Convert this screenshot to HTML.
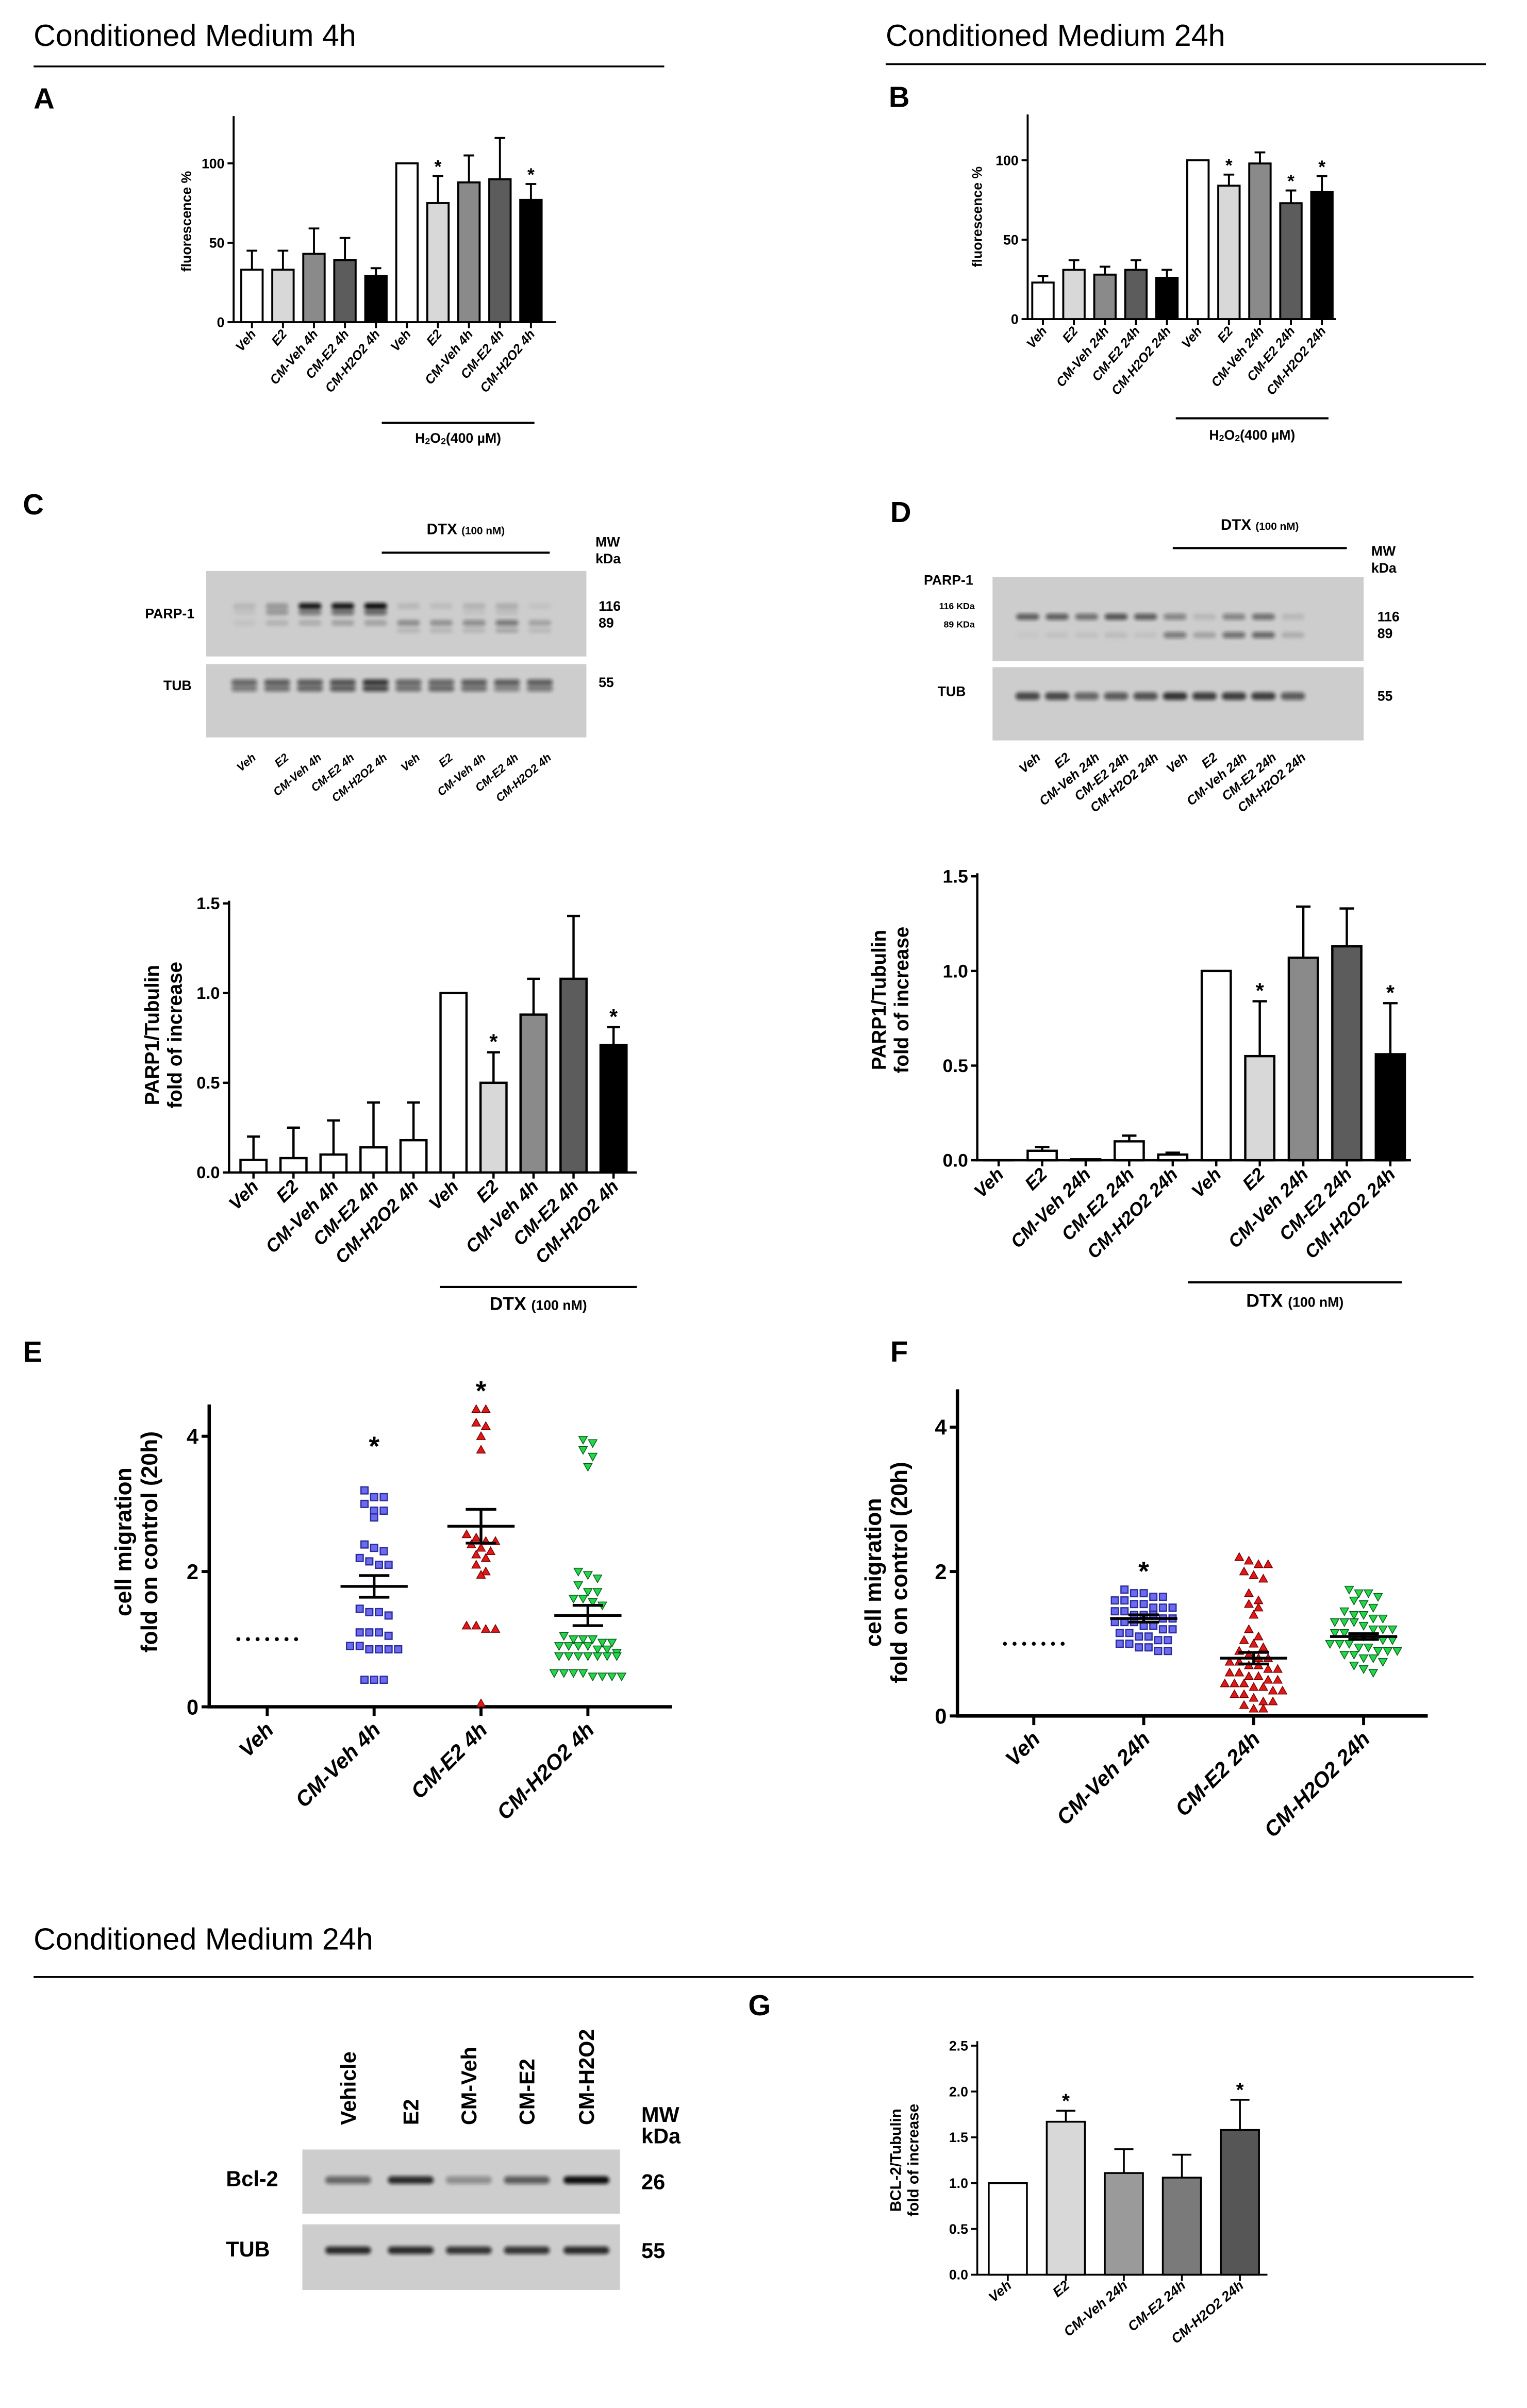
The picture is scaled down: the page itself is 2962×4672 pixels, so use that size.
<!DOCTYPE html>
<html><head><meta charset="utf-8">
<style>
html,body{margin:0;padding:0;background:#fff;}
svg{display:block;}
text{font-family:"Liberation Sans",sans-serif;}
</style></head>
<body>
<svg id="fig" width="2962" height="4672" viewBox="0 0 1000 1577.3" xmlns="http://www.w3.org/2000/svg">
<defs>
<filter id="blur" x="-50%" y="-50%" width="200%" height="200%"><feGaussianBlur stdDeviation="1.2"/></filter>
</defs>
<rect x="0" y="0" width="1000" height="1577.3" fill="#fff"/>
</svg>
<script>
// ---------- Panel A data ----------
const catsA = ["Veh","E2","CM-Veh 4h","CM-E2 4h","CM-H2O2 4h","Veh","E2","CM-Veh 4h","CM-E2 4h","CM-H2O2 4h"];
const valsA = [33,33,43,39,29,100,75,88,90,77];
const errsA = [12,12,16,14,5,0,17,17,26,10];
const starsA = [6,9];
const ticksA = [0,50,100];
// ---------- Panel B data ----------
const catsB = ["Veh","E2","CM-Veh 24h","CM-E2 24h","CM-H2O2  24h","Veh","E2","CM-Veh 24h","CM-E2 24h","CM-H2O2  24h"];
const valsB = [23,31,28,31,26,100,84,98,73,80];
const errsB = [4,6,5,6,5,0,7,7,8,10];
const starsB = [6,8,9];
const ticksB = [0,50,100];
// ---------- Panel C data ----------
const catsC = catsA;
const valsC = [0.07,0.08,0.10,0.14,0.18,1.0,0.50,0.88,1.08,0.71];
const errsC = [0.13,0.17,0.19,0.25,0.21,0,0.17,0.20,0.35,0.10];
const starsC = [6,9];
const ticksC = [0,0.5,1.0,1.5];
const tickLabelsC = ["0.0","0.5","1.0","1.5"];
// ---------- Panel D data ----------
const catsD = catsB;
const valsD = [0.0,0.05,0.005,0.10,0.03,1.0,0.55,1.07,1.13,0.56];
const errsD = [0,0.02,0,0.03,0.01,0,0.29,0.27,0.20,0.27];
const starsD = [6,9];
const ticksD = ticksC;
const tickLabelsD = tickLabelsC;
// ---------- Panel E data ----------
const catsE = ["Veh","CM-Veh 4h","CM-E2 4h","CM-H2O2 4h"];
const vehE = [1,1,1,1,1,1,1];
const cmVehE = [3.2,3.1,3.1,3.0,2.9,2.9,2.8,2.4,2.35,2.3,2.2,2.15,2.1,2.1,1.45,1.4,1.4,1.35,1.1,1.1,1.1,1.05,0.9,0.9,0.85,0.85,0.85,0.85,0.4,0.4,0.4];
const cmE2E = [4.4,4.4,4.2,4.15,4.0,3.8,2.55,2.5,2.45,2.45,2.4,2.35,2.3,2.25,2.2,2.1,2.0,1.95,1.2,1.2,1.15,1.15,0.05];
const cmH2O2E = [3.95,3.9,3.8,3.7,3.55,2.0,1.95,1.9,1.8,1.7,1.7,1.6,1.6,1.55,1.5,1.05,1.0,1.0,1.0,0.95,0.95,0.9,0.9,0.9,0.9,0.85,0.85,0.8,0.75,0.75,0.75,0.75,0.75,0.75,0.75,0.5,0.5,0.45,0.45,0.45,0.45,0.5,0.5];
const meansE = [1.0,1.78,2.67,1.35];
const semsE = [0,0.16,0.25,0.15];
const starsE = [1,2];
const ticksE = [0,2,4];
// ---------- Panel F data ----------
const catsF = ["Veh","CM-Veh 24h","CM-E2 24h","CM-H2O2 24h"];
const vehF = [1,1,1,1,1,1,1];
const cmVehF = [1.75,1.7,1.7,1.65,1.65,1.6,1.6,1.55,1.55,1.5,1.5,1.5,1.45,1.45,1.4,1.4,1.4,1.35,1.35,1.3,1.3,1.3,1.25,1.25,1.2,1.2,1.15,1.15,1.1,1.1,1.05,1.05,1.0,1.0,0.95,0.95,0.9,0.9];
const cmE2F = [2.2,2.15,2.1,2.1,2.0,1.95,1.9,1.7,1.6,1.55,1.5,1.4,1.2,1.1,1.05,1.0,0.95,0.9,0.85,0.8,0.8,0.75,0.7,0.7,0.65,0.6,0.6,0.55,0.5,0.5,0.45,0.45,0.4,0.4,0.35,0.35,0.3,0.3,0.25,0.2,0.2,0.15,0.1,0.1,0.45,0.55,0.65,0.75];
const cmH2O2F = [1.75,1.7,1.7,1.65,1.6,1.55,1.5,1.45,1.4,1.35,1.35,1.3,1.3,1.25,1.2,1.2,1.15,1.15,1.1,1.1,1.05,1.05,1.0,1.0,0.95,0.95,0.9,0.9,0.85,0.85,0.8,0.75,0.7,0.65,0.6,1.0,1.1,1.2,1.3,0.9,0.8,1.4];
const meansF = [1.0,1.35,0.8,1.1];
const semsF = [0,0.05,0.08,0.04];
const starsF = [1];
const ticksF = [0,2,4];
// ---------- Panel G data ----------
const catsG = ["Veh","E2","CM-Veh 24h","CM-E2 24h","CM-H2O2  24h"];
const valsG = [1.0,1.67,1.11,1.06,1.58];
const errsG = [0,0.12,0.26,0.25,0.33];
const starsG = [1,4];
const ticksG = [0,0.5,1.0,1.5,2.0,2.5];
const tickLabelsG = ["0.0","0.5","1.0","1.5","2.0","2.5"];

const NS = "http://www.w3.org/2000/svg";
const svg = document.getElementById('fig');
function el(tag, a, p){const e=document.createElementNS(NS,tag);for(const k in a)e.setAttribute(k,a[k]);(p||svg).appendChild(e);return e;}
function tx(x,y,s,size,extra,p){const t=el('text',Object.assign({x:x,y:y,'font-size':size,fill:'#000'},extra||{}),p);t.textContent=s;return t;}

// ---------- Bar chart ----------
function barChart(name, c){
  const g = el('g',{});
  
  
  const Y = v => c.y0 - v*c.ppu;
  const ax = el('path',{d:`M${c.ax} ${c.yTop} V${c.y0} H${c.axEnd}`,stroke:'#000','stroke-width':c.axW,fill:'none'},g);
  
  
  c.ticks.forEach((t,i)=>{
    el('line',{x1:c.ax-4,x2:c.ax,y1:Y(t),y2:Y(t),stroke:'#000','stroke-width':c.axW},g);
    const tl = tx(c.ax-6,Y(t)+c.tickSize*0.35,c.tickLabels?c.tickLabels[i]:String(t),c.tickSize,{'text-anchor':'end','font-weight':'bold'},g);
    
    
  });
  c.vals.forEach((v,i)=>{
    const cx = c.firstC + i*c.step;
    const r = el('rect',{x:cx-c.bw/2,y:Y(v),width:c.bw,height:Math.max(0.01,c.y0-Y(v)),fill:c.colors[i],stroke:'#000','stroke-width':c.barStroke},g);
    
    
    const top = Y(v+c.errs[i]);
    if(c.errs[i]>0){
      const eb = el('path',{d:`M${cx} ${Y(v)} V${top} M${cx-c.bw*0.25} ${top} H${cx+c.bw*0.25}`,stroke:'#000','stroke-width':c.barStroke,fill:'none'},g);
      
      
    }
    if(c.stars.includes(i)){
      const st = tx(cx,top-2,'*',c.starSize,{'text-anchor':'middle','font-weight':'bold'},g);
      
      
    }
    el('line',{x1:cx,x2:cx,y1:c.y0,y2:c.y0+4,stroke:'#000','stroke-width':c.axW},g);
    const lb = tx(cx+c.lblDx,c.y0+c.lblDy,c.cats[i],c.lblSize,{'text-anchor':'end','font-weight':'bold','font-style':'italic',transform:`rotate(${c.rot} ${cx+c.lblDx} ${c.y0+c.lblDy})`},g);
    
    
  });
  const yl = el('text',{transform:`translate(${c.ylx} ${c.yly}) rotate(-90)`,'font-size':c.ylSize,'font-weight':'bold','text-anchor':'middle'},g);
  c.ylLines.forEach((s,i)=>{const ts=el('tspan',{x:0,dy:i?c.ylSize*1.15:0},yl);ts.textContent=s;});
  
  
}

const grey5 = ['#fff','#d8d8d8','#8a8a8a','#5c5c5c','#000'];
barChart('chart-a',{ax:153,axEnd:364,yTop:76,y0:211,ppu:1.04,ticks:ticksA,vals:valsA,errs:errsA,stars:starsA,cats:catsA,
  colors:grey5.concat(grey5),firstC:165,step:20.3,bw:14,barStroke:1.3,axW:1.3,tickSize:9,starSize:12,lblSize:8.5,lblDx:3,lblDy:8,rot:-50,
  ylx:125,yly:145,ylSize:9,ylLines:['fluorescence %']});
barChart('chart-b',{ax:673,axEnd:875,yTop:75,y0:209,ppu:1.04,ticks:ticksB,vals:valsB,errs:errsB,stars:starsB,cats:catsB,
  colors:grey5.concat(grey5),firstC:683,step:20.3,bw:14,barStroke:1.3,axW:1.3,tickSize:9,starSize:12,lblSize:8.5,lblDx:3,lblDy:8,rot:-50,
  ylx:643,yly:142,ylSize:9,ylLines:['fluorescence %']});
barChart('chart-c',{ax:150,axEnd:417,yTop:590,y0:768,ppu:117.5,ticks:ticksC,tickLabels:tickLabelsC,vals:valsC,errs:errsC,stars:starsC,cats:catsC,
  colors:['#fff','#fff','#fff','#fff','#fff','#fff','#d8d8d8','#8a8a8a','#5c5c5c','#000'],firstC:166,step:26.2,bw:17,barStroke:1.5,axW:1.5,tickSize:11,starSize:14,lblSize:12,lblDx:4,lblDy:10,rot:-45,
  ylx:104,yly:678,ylSize:13,ylLines:['PARP1/Tubulin','fold of increase']});
barChart('chart-d',{ax:640,axEnd:924,yTop:572,y0:760,ppu:124,ticks:ticksD,tickLabels:tickLabelsD,vals:valsD,errs:errsD,stars:starsD,cats:catsD,
  colors:['#fff','#fff','#fff','#fff','#fff','#fff','#d8d8d8','#8a8a8a','#5c5c5c','#000'],firstC:654,step:28.5,bw:19,barStroke:1.5,axW:1.5,tickSize:12,starSize:14,lblSize:12,lblDx:4,lblDy:10,rot:-45,
  ylx:580,yly:655,ylSize:13,ylLines:['PARP1/Tubulin','fold of increase']});
barChart('chart-g',{ax:640,axEnd:830,yTop:1337,y0:1490,ppu:60,ticks:ticksG,tickLabels:tickLabelsG,vals:valsG,errs:errsG,stars:starsG,cats:catsG,
  colors:['#fff','#d8d8d8','#9a9a9a','#7a7a7a','#565656'],firstC:660,step:38,bw:25,barStroke:1.2,axW:1.2,tickSize:9,starSize:13,lblSize:9,lblDx:3,lblDy:8,rot:-40,
  ylx:590,yly:1415,ylSize:10,ylLines:['BCL-2/Tubulin','fold of increase']});

// ---------- Scatter charts ----------
function marker(shape,x,y,g){
  let m;
  if(shape==='sq') m=el('rect',{x:x-2.3,y:y-2.3,width:4.6,height:4.6,fill:'#6b6bf0',stroke:'#2a2a9a','stroke-width':0.8},g);
  else if(shape==='up') m=el('path',{d:`M${x} ${y-2.8} L${x+2.8} ${y+2.2} L${x-2.8} ${y+2.2}Z`,fill:'#e01818',stroke:'#700','stroke-width':0.5},g);
  else if(shape==='dn') m=el('path',{d:`M${x} ${y+2.8} L${x+2.8} ${y-2.2} L${x-2.8} ${y-2.2}Z`,fill:'#22d84a',stroke:'#0a5a1a','stroke-width':0.5},g);
  else m=el('circle',{cx:x,cy:y,r:1.3,fill:'#000'},g);
  return m;
}
function scatter(name,c){
  const g = el('g',{});
  
  
  const Y = v => c.y0 - v*c.ppu;
  const ax = el('path',{d:`M${c.ax} ${c.yTop} V${c.y0} H${c.axEnd}`,stroke:'#000','stroke-width':2.2,fill:'none'},g);
  
  
  c.ticks.forEach(t=>{
    el('line',{x1:c.ax-5,x2:c.ax,y1:Y(t),y2:Y(t),stroke:'#000','stroke-width':2},g);
    const tl = tx(c.ax-7,Y(t)+5,String(t),14,{'text-anchor':'end','font-weight':'bold'},g);
    
    
  });
  c.groups.forEach((vals,gi)=>{
    const cx = c.firstC + gi*c.step;
    el('line',{x1:cx,x2:cx,y1:c.y0,y2:c.y0+6,stroke:'#000','stroke-width':2},g);
    const lb = tx(cx+5,c.y0+16,c.cats[gi],14,{'text-anchor':'end','font-weight':'bold','font-style':'italic',transform:`rotate(-45 ${cx+5} ${c.y0+16})`},g);
    
    
    const sorted = vals.slice().sort((a,b)=>b-a);
    const rows=[]; let cur=null;
    sorted.forEach(v=>{ if(cur && (cur.v0 - v)*c.ppu < 5.5 && cur.items.length<8){cur.items.push(v);} else {cur={v0:v,items:[v]};rows.push(cur);} });
    rows.forEach(r=>{
      const n=r.items.length, sp = 6.3;
      r.items.forEach((v,k)=>{
        const m = marker(c.shapes[gi], cx+(k-(n-1)/2)*sp, Y(v), g);
        
        
      });
    });
    if(gi>0){
      const mY=Y(c.means[gi]), hi=Y(c.means[gi]+c.sems[gi]), lo=Y(c.means[gi]-c.sems[gi]);
      const ml = el('path',{d:`M${cx-22} ${mY} H${cx+22} M${cx} ${hi} V${lo} M${cx-10} ${hi} H${cx+10} M${cx-10} ${lo} H${cx+10}`,stroke:'#000','stroke-width':1.8,fill:'none'},g);
      
      
    }
    if(c.stars.includes(gi)){
      const topV = Math.max.apply(null, vals);
      const st = tx(cx, gi===1&&name==='chart-e'?Y(3.85)+6:Y(topV)-6, '*', 18, {'text-anchor':'middle','font-weight':'bold'}, g);
      
      
    }
  });
  const yl = el('text',{transform:`translate(${c.ylx} ${c.yly}) rotate(-90)`,'font-size':15,'font-weight':'bold','text-anchor':'middle'},g);
  ['cell migration','fold on control (20h)'].forEach((s,i)=>{const ts=el('tspan',{x:0,dy:i?17:0},yl);ts.textContent=s;});
  
  
}
scatter('chart-e',{ax:137,axEnd:440,yTop:920,y0:1118,ppu:44.3,ticks:ticksE,cats:catsE,groups:[vehE,cmVehE,cmE2E,cmH2O2E],
  means:meansE,sems:semsE,stars:starsE,shapes:['dot','sq','up','dn'],firstC:175,step:70,ylx:86,yly:1010});
scatter('chart-f',{ax:627,axEnd:935,yTop:910,y0:1124,ppu:47.3,ticks:ticksF,cats:catsF,groups:[vehF,cmVehF,cmE2F,cmH2O2F],
  means:meansF,sems:semsF,stars:starsF,shapes:['dot','sq','up','dn'],firstC:677,step:72,ylx:577,yly:1030});

// ---------- Headings / labels ----------
function heading(s,x,y,lx1,lx2,ly){
  const t=tx(x,y,s,20,{});  
  const l=el('line',{x1:lx1,x2:lx2,y1:ly,y2:ly,stroke:'#000','stroke-width':1.2});  
}
heading('Conditioned Medium 4h',22,30,22,435,43.5);
heading('Conditioned Medium 24h',580,30,580,973,42);
heading('Conditioned Medium 24h',22,1277,22,965,1295);
[['A',22,71],['B',582,70],['C',15,337],['D',583,342],['E',15,892],['F',583,892],['G',490,1320]].forEach(p=>{
  const t=tx(p[1],p[2],p[0],19,{'font-weight':'bold'});
  
  
});
function treatLine(x1,x2,y,lbl,tyDy,size,name){
  const l=el('line',{x1:x1,x2:x2,y1:y,y2:y,stroke:'#000','stroke-width':1.4});
   
  const t=el('text',{x:(x1+x2)/2,y:y+tyDy,'font-size':size,'font-weight':'bold','text-anchor':'middle'});
  t.innerHTML=lbl;
   
}
treatLine(250,350,277,'H<tspan font-size="6" dy="1">2</tspan><tspan dy="-1">O</tspan><tspan font-size="6" dy="1">2</tspan><tspan dy="-1">(400 µM)</tspan>',13,9,'h2o2-a');
treatLine(770,870,274,'H<tspan font-size="6" dy="1">2</tspan><tspan dy="-1">O</tspan><tspan font-size="6" dy="1">2</tspan><tspan dy="-1">(400 µM)</tspan>',14,9,'h2o2-b');
treatLine(288,417,843,'DTX <tspan font-size="9">(100 nM)</tspan>',15,12,'dtx-c-chart');
treatLine(778,918,840,'DTX <tspan font-size="9">(100 nM)</tspan>',16,12,'dtx-d-chart');
treatLine(250,360,362,'DTX <tspan font-size="7">(100 nM)</tspan>',-12,10,'dtx-c-blot');
treatLine(768,882,359,'DTX <tspan font-size="7">(100 nM)</tspan>',-12,10,'dtx-d-blot');

// ---------- Blots ----------
function blot(name,x,y,w,h,centers,bands){
  const g=el('g',{});
  
  
  el('rect',{x:x,y:y,width:w,height:h,fill:'#cdcdcd'},g);
  bands.forEach(b=>{
    centers.forEach((cx,i)=>{
      const a=b.int[i]; if(a<=0) return;
      const e=el('rect',{x:cx-b.w/2,y:b.y-b.h/2,width:b.w,height:b.h,rx:b.h/2,fill:'#111','fill-opacity':a,filter:'url(#blur)'},g);
      
      
    });
  });
}
const lanesC=[]; for(let i=0;i<10;i++) lanesC.push(160+i*21.5);
blot('blot-c-parp',135,374,249,56,lanesC,[
  {y:397,h:4,w:15,int:[0.1,0.25,0.95,0.95,1,0.1,0.08,0.12,0.15,0.05]},
  {y:401,h:4,w:15,int:[0.05,0.25,0.45,0.5,0.55,0,0,0.05,0.08,0]},
  {y:408,h:4,w:15,int:[0.05,0.12,0.15,0.2,0.2,0.3,0.28,0.35,0.45,0.2]},
  {y:413,h:3,w:15,int:[0,0,0,0,0,0.12,0.12,0.12,0.2,0.1]}]);
blot('blot-c-tub',135,435,249,48,lanesC,[
  {y:447,h:4,w:17,int:[0.55,0.6,0.6,0.65,0.8,0.55,0.55,0.6,0.6,0.6]},
  {y:451,h:4,w:17,int:[0.45,0.5,0.55,0.6,0.7,0.5,0.55,0.5,0.4,0.45]}]);
const lanesD=[]; for(let i=0;i<10;i++) lanesD.push(673+i*19.3);
blot('blot-d-parp',650,378,243,55,lanesD,[
  {y:404,h:4,w:15,int:[0.6,0.6,0.5,0.65,0.6,0.4,0.1,0.4,0.5,0.1]},
  {y:416,h:4,w:15,int:[0.03,0.05,0.05,0.08,0.05,0.45,0.2,0.5,0.55,0.15]}]);
blot('blot-d-tub',650,437,243,48,lanesD,[
  {y:456,h:5,w:16,int:[0.7,0.7,0.55,0.6,0.65,0.8,0.75,0.75,0.75,0.6]}]);
const lanesG=[228,269,307,345,384];
blot('blot-g-bcl2',198,1408,208,42,lanesG,[{y:1428,h:5,w:30,int:[0.55,0.85,0.35,0.6,1]}]);
blot('blot-g-tub',198,1457,208,43,lanesG,[{y:1474,h:5,w:30,int:[0.85,0.85,0.8,0.8,0.85]}]);

[['PARP-1',95,405,9],['TUB',107,452,9],['MW',390,358,9],['kDa',390,369,9],['116',392,400,9],['89',392,411,9],['55',392,450,9],
 ['PARP-1',605,383,9],['116 KDa',615,399,6],['89 KDa',618,411,6],['TUB',614,456,9],['MW',898,364,9],['kDa',898,375,9],['116',902,407,9],['89',902,418,9],['55',902,459,9]
].forEach(l=>{const t=tx(l[1],l[2],l[0],l[3],{'font-weight':'bold'});  });
[['Bcl-2',148,1432],['TUB',148,1478],['26',420,1434],['55',420,1479],['MW',420,1390],['kDa',420,1404]].forEach(l=>{
  const t=tx(l[1],l[2],l[0],14,{'font-weight':'bold'});  });
catsA.forEach((s,i)=>{const x=lanesC[i]+8,y=497;const t=tx(x,y,s,7.5,{'text-anchor':'end','font-weight':'bold','font-style':'italic',transform:`rotate(-40 ${x} ${y})`});
   });
catsB.forEach((s,i)=>{const x=lanesD[i]+9,y=497;const t=tx(x,y,s,8.5,{'text-anchor':'end','font-weight':'bold','font-style':'italic',transform:`rotate(-40 ${x} ${y})`});
   });
['Vehicle','E2','CM-Veh','CM-E2','CM-H2O2'].forEach((s,i)=>{const x=lanesG[i]+5,y=1392;
  const t=tx(x,y,s,14,{'font-weight':'bold',transform:`rotate(-90 ${x} ${y})`});
   });
</script>
</body></html>
